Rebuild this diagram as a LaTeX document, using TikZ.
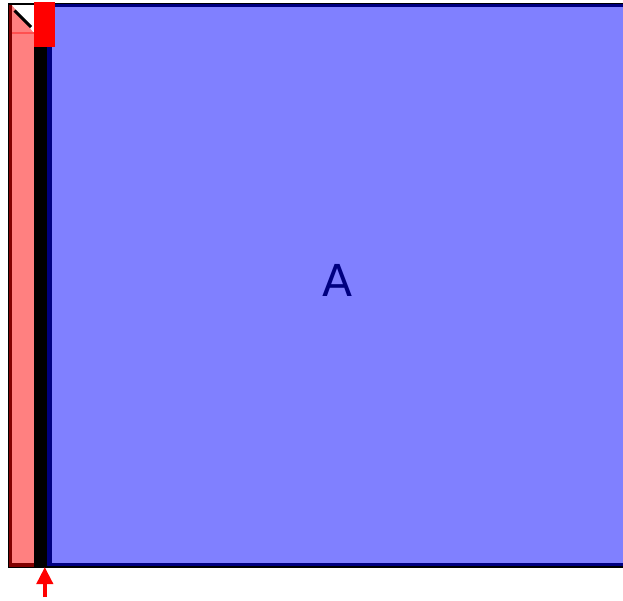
\documentclass[tikz,border=0pt]{standalone}
\usepackage{fontspec}
\setmainfont{DejaVu Sans}
\usetikzlibrary{arrows.meta}
\definecolor{pinkc}{HTML}{FF8080}
\definecolor{darkred}{HTML}{800000}
\definecolor{bluec}{HTML}{8080FF}
\definecolor{navyc}{HTML}{000080}
\definecolor{redline}{HTML}{FF5050}
\tikzset{
  lbl/.style={text=navyc, font=\fontsize{44}{52}\selectfont, inner sep=0pt},
  pointer/.style={draw=red, line width=4pt, -{Triangle[length=17pt,width=16pt]}}
}
\begin{document}
\begin{tikzpicture}[x=1pt,y=-1pt]
\useasboundingbox (0,0) rectangle (623,600);
\fill[white] (0,0) rectangle (623,600);
% outer black frame
\fill[black] (8,3) rectangle (623,567.5);
% first (pink) column
\fill[darkred] (9,5) rectangle (34,567);
\fill[pinkc] (12,5) rectangle (34,563);
\fill[white] (12,5) -- (34,5) -- (34,33) -- cycle;
\draw[black, line width=3pt] (14.5,10.5) -- (31,27);
\draw[redline, line width=2pt] (12,33) -- (34,33);
% blue block
\fill[navyc] (47,4) rectangle (623,566);
\fill[bluec] (52,7) rectangle (623,563);
% red box
\fill[red] (34,2) rectangle (55,47);
% label
\node[lbl] (A) at (337.5,280.5) {A};
% arrow
\coordinate (tail) at (44.8,597);
\coordinate (tip) at (44.8,567);
\draw[pointer] (tail) -- (tip);
\end{tikzpicture}
\end{document}
